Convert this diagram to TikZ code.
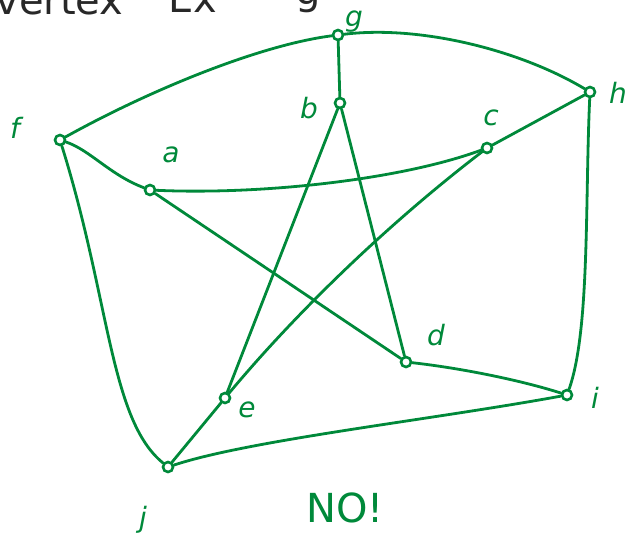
\documentclass[tikz,border=0pt]{standalone}
\usepackage{fontspec}
\setmainfont{DejaVu Sans}
\definecolor{pen}{RGB}{0,137,58}
\definecolor{ink}{RGB}{40,40,40}
\begin{document}
\begin{tikzpicture}[x=1pt,y=-1pt,
  vtx/.style={circle,draw=pen,line width=2.6pt,minimum size=10pt,inner sep=0pt},
  lbl/.style={text=pen,font=\fontsize{28}{28}\selectfont\itshape},
  inkt/.style={anchor=base west,text=ink,font=\fontsize{40}{40}\selectfont},
  edge/.style={draw=pen,line width=2.8pt,line cap=round}]
\useasboundingbox (0,0) rectangle (634,539);
\begin{scope}
\clip (0,0) rectangle (634,539);
\node[inkt] (t1) at (-8,14) {vertex};
\node[inkt] (t2) at (165,12) {Ex};
\node[inkt] (t3) at (292,4) {g};
\end{scope}
\node[vtx] (f) at (60,140) {};
\node[vtx] (g) at (338,35) {};
\node[vtx] (h) at (590,92) {};
\node[vtx] (i) at (567,395) {};
\node[vtx] (j) at (168,467) {};
\node[vtx] (a) at (150,190) {};
\node[vtx] (b) at (340,103) {};
\node[vtx] (c) at (487,148) {};
\node[vtx] (d) at (406,362) {};
\node[vtx] (e) at (225,398) {};
\node[lbl] (lf) at (15,128) {f};
\node[lbl] (lg) at (354,22) {g};
\node[lbl] (lb) at (309,108) {b};
\node[lbl] (lh) at (618,93) {h};
\node[lbl] (lc) at (491,118) {c};
\node[lbl] (la) at (171,155) {a};
\node[lbl] (ld) at (436,335) {d};
\node[lbl] (le) at (247,410) {e};
\node[lbl] (li) at (595,398) {i};
\node[lbl] (lj) at (143,520) {j};
\node[text=pen,font=\fontsize{40}{40}\selectfont] (no) at (345,508) {NO!};
% outer cycle
\draw[edge] (f) .. controls (150,90) and (260,45) .. (g);
\draw[edge] (g) .. controls (420,25) and (520,50) .. (h);
\draw[edge] (h) .. controls (585,200) and (590,330) .. (i);
\draw[edge] (i) .. controls (430,420) and (250,440) .. (j);
\draw[edge] (j) .. controls (110,420) and (110,300) .. (f);
% spokes
\draw[edge] (f) .. controls (90,150) and (110,175) .. (a);
\draw[edge] (g) -- (b);
\draw[edge] (h) -- (c);
\draw[edge] (i) .. controls (520,380) and (460,368) .. (d);
\draw[edge] (j) -- (e);
% inner pentagram
\draw[edge] (a) .. controls (260,195) and (400,180) .. (c);
\draw[edge] (c) .. controls (380,230) and (290,320) .. (e);
\draw[edge] (e) -- (b);
\draw[edge] (b) -- (d);
\draw[edge] (d) -- (a);
\end{tikzpicture}
\end{document}
